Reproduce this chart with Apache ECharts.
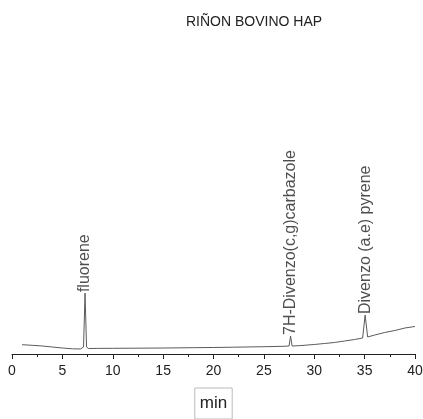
<!DOCTYPE html>
<html><head><meta charset="utf-8">
<script src="https://cdn.jsdelivr.net/npm/echarts@6/dist/echarts.min.js"></script>
<style>html,body{margin:0;padding:0;background:#fff}#c{width:423px;height:419px}</style>
</head><body><div id="c"></div>
<script>
const title = 'RIÑON BOVINO HAP';
const xName = 'min';
const xTicks = [0, 5, 10, 15, 20, 25, 30, 35, 40];
const timeMin = [1, 2, 3, 4, 5, 6, 6.8, 7.1, 7.25, 7.4, 7.6, 8.5, 10, 12, 15, 18, 20, 22, 25, 27, 27.5, 27.65, 27.8, 28.5, 30, 31, 32, 33, 34, 34.8, 35.05, 35.3, 36, 37, 38, 39, 40];
const signal  = [3.1, 2.9, 2.67, 2.33, 2.0, 1.73, 1.67, 2.33, 20.3, 2.33, 1.83, 1.87, 1.9, 1.93, 2.0, 2.1, 2.17, 2.27, 2.43, 2.57, 2.67, 6.0, 2.67, 2.77, 3.17, 3.5, 3.83, 4.33, 4.83, 5.33, 13.0, 5.67, 6.33, 7.17, 7.83, 8.67, 9.17];
const peakNames = ['fluorene', '7H-Divenzo(c,g)carbazole', 'Divenzo (a.e) pyrene'];
const peakTimes = [7.25, 27.65, 35.05];
const peakTops  = [20.3, 6.0, 13.0];

const chart = echarts.init(document.getElementById('c'));
chart.setOption({
  animation: false,
  title: { text: title, left: 186, top: 15, padding: 0,
    textStyle: { fontFamily: 'Liberation Sans', fontSize: 14, fontWeight: 'normal', color: '#222' } },
  grid: { left: 12, right: 8, top: 54, bottom: 65, containLabel: false, outerBoundsMode: 'none' },
  xAxis: {
    type: 'value', min: 0, max: 40, interval: 5,
    name: xName, nameLocation: 'middle', nameGap: 34,
    nameTextStyle: { fontFamily: 'Liberation Sans', fontSize: 17, color: '#222',
      borderColor: '#bbb', borderWidth: 1, padding: [7, 5, 7, 5] },
    axisLine: { lineStyle: { color: '#222', width: 1 } },
    axisTick: { show: true, length: 5, lineStyle: { color: '#222' } },
    minorTick: { show: true, splitNumber: 2, length: 3, lineStyle: { color: '#222' } },
    splitLine: { show: false },
    axisLabel: { fontFamily: 'Liberation Sans', fontSize: 14, color: '#222', margin: 10,
      formatter: v => xTicks.includes(v) ? String(v) : '' }
  },
  yAxis: { type: 'value', min: 0, max: 100, show: false, splitLine: { show: false } },
  series: [
    { type: 'line', data: timeMin.map((t, i) => [t, signal[i]]), symbol: 'none',
      lineStyle: { color: '#5a5a5a', width: 1 }, z: 3 },
    { type: 'scatter', symbolSize: 0, data: peakTimes.map((t, i) => ({ value: [t, peakTops[i]], name: peakNames[i] })),
      label: { show: true, position: 'top', distance: 1, rotate: 90, align: 'left', verticalAlign: 'middle',
        formatter: p => p.name, fontFamily: 'Liberation Sans', fontSize: 16, color: '#222' } }
  ]
});
</script></body></html>
